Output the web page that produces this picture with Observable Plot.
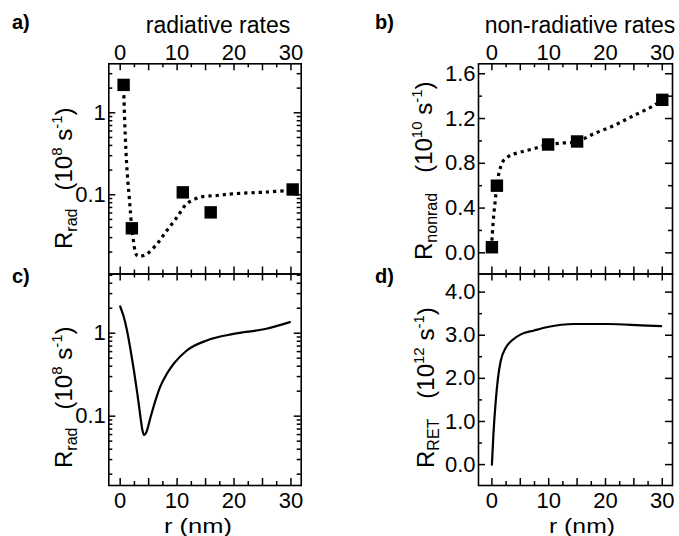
<!DOCTYPE html>
<html>
<head>
<meta charset="utf-8">
<script src="https://cdn.jsdelivr.net/npm/d3@7"></script>
<script src="https://cdn.jsdelivr.net/npm/@observablehq/plot@0.6"></script>
<style>
  body { margin: 0; background: #fff; }
  #fig { position: relative; width: 679px; height: 536px; overflow: hidden;
         font-family: "Liberation Sans", Arial, Helvetica, sans-serif; }
  #fig > svg { position: absolute; }
</style>
</head>
<body>
<div id="fig"></div>
<script>
// ---------------- data ----------------
// (a) radiative rates, measured (squares) and fit (dotted)
const radMeasR    = [0.6, 2.05, 11.0, 15.9, 30.3];
const radMeasRate = [2.19, 0.039, 0.107, 0.061, 0.116];
const radFitR     = [0.6, 0.88, 1.17, 1.64, 2.17, 2.93, 3.5, 4.7, 6.5, 8.2, 10.0, 11.7, 14.1, 17.0, 19.9, 25.8, 29.9];
const radFitRate  = [2.0, 0.555, 0.217, 0.085, 0.0334, 0.0182, 0.0178, 0.019, 0.0253, 0.0367, 0.0533, 0.0777, 0.0935, 0.098, 0.103, 0.108, 0.113];
// (b) non-radiative rates
const nonradMeasR    = [0, 0.88, 9.9, 15.0, 30.0];
const nonradMeasRate = [0.05, 0.60, 0.968, 0.995, 1.367];
const nonradFitR     = [0, 0.29, 0.59, 0.88, 1.35, 2.05, 3.23, 5.0, 7.3, 9.9, 12.0, 15.0, 17.9, 21.5, 25.0, 28.5, 30.0];
const nonradFitRate  = [0.11, 0.318, 0.467, 0.60, 0.735, 0.825, 0.87, 0.90, 0.93, 0.968, 0.98, 0.995, 1.063, 1.138, 1.227, 1.316, 1.367];
// (c) calculated radiative rate
const radCalcR    = [0, 0.6, 1.2, 1.8, 2.4, 3.0, 3.5, 3.9, 4.2, 4.6, 5.3, 6.2, 7.0, 8.2, 9.4, 11.7, 15.2, 19.9, 25.7, 29.8];
const radCalcRate = [2.1, 1.6, 1.08, 0.64, 0.36, 0.19, 0.105, 0.068, 0.059, 0.064, 0.095, 0.155, 0.224, 0.324, 0.428, 0.619, 0.817, 0.98, 1.13, 1.36];
// (d) calculated RET rate
const retCalcR    = [0, 0.27, 0.68, 1.09, 1.56, 2.44, 3.62, 5.09, 7.44, 9.8, 14.5, 20.4, 26.3, 29.8];
const retCalcRate = [0.0, 0.71, 1.48, 2.03, 2.41, 2.71, 2.89, 3.02, 3.11, 3.19, 3.26, 3.26, 3.23, 3.21];

// ticks
const xTickLabels = [0, 10, 20, 30];
const xMajorTicks = [0, 5, 10, 15, 20, 25, 30];
const xMinorTicks = [2.5, 7.5, 12.5, 17.5, 22.5, 27.5];
const logTickLabels = [0.1, 1];
const logMinorTicks = [0.02, 0.03, 0.04, 0.05, 0.06, 0.07, 0.08, 0.09,
                       0.2, 0.3, 0.4, 0.5, 0.6, 0.7, 0.8, 0.9, 2, 3, 4, 5];
const nonradTickLabels = [0.0, 0.4, 0.8, 1.2, 1.6];
const nonradMinorTicks = [0.2, 0.6, 1.0, 1.4];
const retTickLabels = [0, 1, 2, 3, 4];
const retMinorTicks = [0.5, 1.5, 2.5, 3.5];

const FONT = '"Liberation Sans", Arial, Helvetica, sans-serif';
const TICKFONT = 22;
const fig = document.getElementById("fig");

const toPts = (xs, ys) => xs.map((x, i) => ({x, y: ys[i]}));

function panel(o) {
  const ih = o.height - o.mt - o.mb;
  const iw = o.width - o.ml - o.mr;
  const [y0, y1] = o.yDomain;
  const inY = v => v >= Math.min(y0, y1) && v <= Math.max(y0, y1);
  const tk = {stroke: "black", strokeWidth: 1.5};
  const marks = [];
  for (const [vals, len] of [[xMajorTicks, 7], [xMinorTicks, 4]]) {
    marks.push(Plot.tickX(vals, {x: d => d, insetTop: ih - len, ...tk}));
    marks.push(Plot.tickX(vals, {x: d => d, insetBottom: ih - len, ...tk}));
  }
  for (const [vals, len] of [[o.yMajor, 7], [o.yMinor.filter(inY), 4]]) {
    marks.push(Plot.tickY(vals, {y: d => d, insetRight: iw - len, ...tk}));
    marks.push(Plot.tickY(vals, {y: d => d, insetLeft: iw - len, ...tk}));
  }
  marks.push(Plot.frame({stroke: "black", strokeWidth: 1.6}));
  marks.push(Plot.axisY(o.yMajor, {anchor: "left", tickSize: 0, tickPadding: 3, label: null,
                                   tickFormat: o.yFormat, fontSize: TICKFONT}));
  if (o.topLabels) marks.push(Plot.axisX(xTickLabels, {anchor: "top", tickSize: 0, tickPadding: 4, label: null, fontSize: TICKFONT}));
  if (o.bottomLabels) marks.push(Plot.axisX(xTickLabels, {anchor: "bottom", tickSize: 0, tickPadding: 7, label: null, fontSize: TICKFONT}));
  marks.push(...o.marks);
  const svg = Plot.plot({
    width: o.width, height: o.height,
    marginLeft: o.ml, marginRight: o.mr, marginTop: o.mt, marginBottom: o.mb,
    style: {background: "none", overflow: "visible", fontFamily: FONT, fontSize: TICKFONT + "px", color: "black"},
    x: {domain: o.xDomain},
    y: {type: o.yType, domain: o.yDomain},
    marks
  });
  svg.style.left = o.left + "px";
  svg.style.top = o.top + "px";
  fig.appendChild(svg);
}

const dotted = {x: "x", y: "y", stroke: "black", strokeWidth: 3.2, strokeDasharray: "3.2,4",
                strokeLinecap: "butt", curve: "catmull-rom"};
const solid = {x: "x", y: "y", stroke: "black", strokeWidth: 2.2, curve: "monotone-x"};
const squares = {x: "x", y: "y", symbol: "square", fill: "black", r: 7};

// (a)
panel({left: 0, top: 0, width: 340, height: 280, ml: 108.3, mr: 39.3, mt: 63.3, mb: 6.5,
  xDomain: [-2.0, 31.8], yType: "log", yDomain: [0.0108, 3.96],
  yMajor: logTickLabels, yMinor: logMinorTicks, yFormat: d => String(d), topLabels: true,
  marks: [Plot.line(toPts(radFitR, radFitRate), dotted), Plot.dot(toPts(radMeasR, radMeasRate), squares)]});
// (c)
panel({left: 0, top: 260, width: 340, height: 276, ml: 108.3, mr: 39.3, mt: 13.5, mb: 51,
  xDomain: [-2.0, 31.8], yType: "log", yDomain: [0.0146, 5.17],
  yMajor: logTickLabels, yMinor: logMinorTicks, yFormat: d => String(d), bottomLabels: true,
  marks: [Plot.line(toPts(radCalcR, radCalcRate), solid)]});
// (b)
panel({left: 340, top: 0, width: 339, height: 280, ml: 138, mr: 7, mt: 63.3, mb: 6.5,
  xDomain: [-2.36, 31.8], yType: "linear", yDomain: [-0.189, 1.689],
  yMajor: nonradTickLabels, yMinor: nonradMinorTicks, yFormat: d => d.toFixed(1), topLabels: true,
  marks: [Plot.line(toPts(nonradFitR, nonradFitRate), dotted), Plot.dot(toPts(nonradMeasR, nonradMeasRate), squares)]});
// (d)
panel({left: 340, top: 260, width: 339, height: 276, ml: 138, mr: 7, mt: 13.5, mb: 51,
  xDomain: [-2.36, 31.8], yType: "linear", yDomain: [-0.485, 4.42],
  yMajor: retTickLabels, yMinor: retMinorTicks, yFormat: d => d.toFixed(1), bottomLabels: true,
  marks: [Plot.line(toPts(retCalcR, retCalcRate), solid)]});

// ---------------- overlay text ----------------
const ov = d3.create("svg").attr("width", 679).attr("height", 536)
  .style("left", "0px").style("top", "0px").style("pointer-events", "none")
  .attr("font-family", FONT).attr("fill", "black");

function plain(x, y, str, size, anchor = "start", weight = "normal", len = null) {
  const t = ov.append("text").attr("x", x).attr("y", y).attr("font-size", size)
    .attr("text-anchor", anchor).attr("font-weight", weight).text(str);
  if (len) t.attr("textLength", len).attr("lengthAdjust", "spacingAndGlyphs");
}
plain(12, 29, "a)", 20, "start", "bold");
plain(375, 29, "b)", 20, "start", "bold");
plain(12, 283, "c)", 20, "start", "bold");
plain(375, 283, "d)", 20, "start", "bold");
plain(218, 33, "radiative rates", 23, "middle");
plain(580, 33, "non-radiative rates", 23, "middle");
plain(198, 533, "r (nm)", 21, "middle", "normal", 68);
plain(582, 533, "r (nm)", 21, "middle", "normal", 66);

function yTitle(x, y, sub, exp, gap) {
  const t = ov.append("text").attr("transform", `translate(${x},${y}) rotate(-90)`).attr("font-size", 24);
  t.append("tspan").text("R");
  t.append("tspan").attr("font-size", 16).attr("dy", 5).text(sub);
  t.append("tspan").attr("dx", gap).attr("dy", -5).text("(10");
  t.append("tspan").attr("font-size", 15).attr("dy", -10).text(exp);
  t.append("tspan").attr("dy", 10).text(" s");
  t.append("tspan").attr("font-size", 15).attr("dy", -10).text("-1");
  t.append("tspan").attr("dy", 10).text(")");
}
yTitle(72, 249, "rad", "8", 18);
yTitle(72, 468, "rad", "8", 18);
yTitle(432, 260, "nonrad", "10", 20);
yTitle(434, 468, "RET", "12", 20);

fig.appendChild(ov.node());
</script>
</body>
</html>
